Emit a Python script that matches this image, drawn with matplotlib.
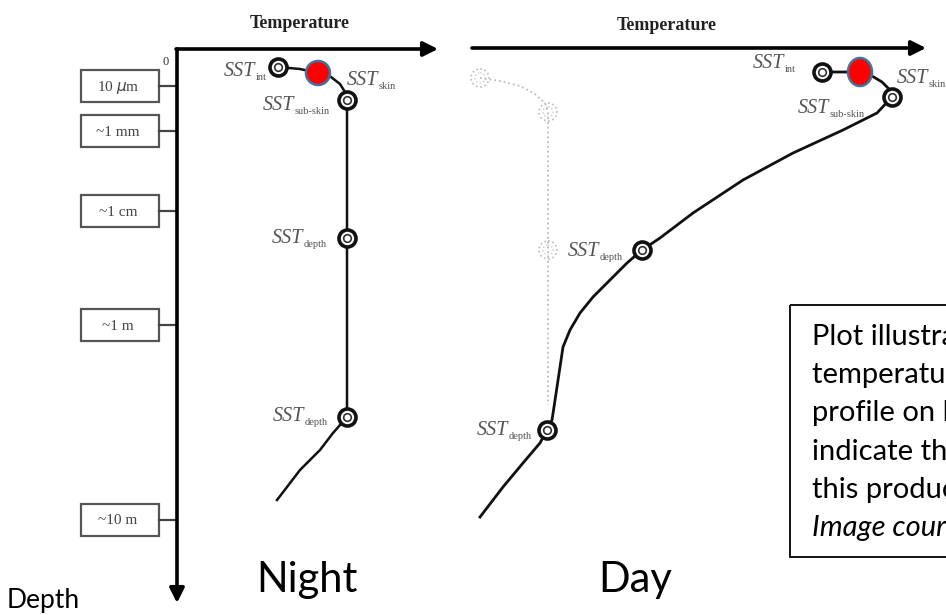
import numpy as np
import matplotlib.pyplot as plt
from matplotlib.patches import Rectangle, Ellipse, Circle

# profile curves, (temperature position, depth position) in picture units
night_T = [278, 300, 318, 331, 340, 345, 347, 347, 347, 333, 320, 300, 287, 277]
night_z = [67, 69, 73, 77, 84, 92, 100, 238, 417, 433, 450, 470, 487, 500]

day_T = [822, 845, 860, 872, 882, 889, 892, 877, 843, 793, 743, 693, 660, 642,
         627, 610, 593, 580, 570, 563, 560, 557, 554, 552, 547, 540, 523, 503, 480]
day_z = [72, 72, 72, 76, 82, 89, 97, 113, 130, 153, 180, 213, 238, 250,
         263, 280, 297, 313, 330, 347, 367, 387, 407, 420, 430, 443, 463, 487, 517]

ghost_T = [480, 500, 520, 535, 545, 548, 548]
ghost_z = [78, 81, 86, 94, 103, 112, 405]

# measurement markers
night_mk_T = [278, 347, 347, 347]
night_mk_z = [67, 100, 238, 417]
day_mk_T = [822, 892, 642, 547]
day_mk_z = [72, 97, 250, 430]
ghost_mk_T = [480, 548, 548]
ghost_mk_z = [78, 112, 250]

# skin temperature (red dots)
skin_T = [318, 860]
skin_z = [73, 72]

# depth scale boxes
depth_labels = ['10 $\\mu$m', '~1 mm', '~1 cm', '~1 m', '~10 m']
depth_ticks = [86, 131, 211, 325, 520]

# SST labels: (x, baseline, subscript)
night_lab = [(224, 76, 'int'), (347, 85, 'skin'), (263, 110, 'sub-skin'),
             (272, 243, 'depth'), (273, 421, 'depth')]
day_lab = [(753, 68, 'int'), (897, 83, 'skin'), (798, 113, 'sub-skin'),
           (568, 256, 'depth'), (477, 435, 'depth')]

note_lines = ['Plot illustrating the', 'temperature vs depth', 'profile on left and right.',
              'indicate the skin layer', 'this product measures.', 'Image courtesy of GHRSST']

serif = 'Liberation Serif'
sans = 'Lato'

fig = plt.figure(figsize=(9.46, 6.15), dpi=100)
ax = fig.add_axes([0, 0, 1, 1])
ax.set_xlim(0, 946)
ax.set_ylim(615, 0)
ax.axis('off')
renderer = fig.canvas.get_renderer()

arrow = dict(arrowstyle='-|>', lw=2.6, color='black', mutation_scale=22, shrinkA=0, shrinkB=0)
ax.annotate('', xy=(177, 603), xytext=(177, 49), arrowprops=arrow)
ax.annotate('', xy=(438, 49), xytext=(176, 49), arrowprops=arrow)
ax.annotate('', xy=(926, 48), xytext=(472, 48), arrowprops=arrow)

ax.text(300, 24, 'Temperature', family=serif, fontsize=13, fontweight='bold',
        color='#222', ha='center', va='center')
ax.text(667, 25, 'Temperature', family=serif, fontsize=13, fontweight='bold',
        color='#222', ha='center', va='center')
ax.text(166, 62, '0', family=serif, fontsize=9, color='#333', ha='center', va='center')

for lab, y in zip(depth_labels, depth_ticks):
    ax.add_patch(Rectangle((81, y - 16), 78, 32, fill=False, ec='#555', lw=1.6))
    ax.plot([159, 177], [y, y], color='#444', lw=1.6)
    ax.text(118, y + 1, lab, family=serif, fontsize=11, color='#444', ha='center', va='center')

# ghost (night) profile in the day panel
ax.plot(ghost_T, ghost_z, color='#bbbbbb', lw=1.3, ls=':')
for x, y in zip(ghost_mk_T, ghost_mk_z):
    ax.add_patch(Circle((x, y), 9, fill=False, ec='#bbbbbb', lw=1.2, ls=':'))
    ax.add_patch(Circle((x, y), 5, fill=False, ec='#cccccc', lw=1.0, ls=':'))

ax.plot(night_T, night_z, color='#111', lw=1.8)
ax.plot(day_T, day_z, color='#111', lw=2.0)

for xs, ys in [(night_mk_T, night_mk_z), (day_mk_T, day_mk_z)]:
    ax.scatter(xs, ys, s=150, facecolor='white', edgecolor='#111', lw=2.6, zorder=4)
    ax.scatter(xs, ys, s=30, facecolor='white', edgecolor='#333', lw=1.2, zorder=5)

ax.add_patch(Ellipse((skin_T[0], skin_z[0]), 24, 24, fc='#ff0000', ec='#41719c', lw=1.8, zorder=6))
ax.add_patch(Ellipse((skin_T[1], skin_z[1]), 24, 28, fc='#ff0000', ec='#41719c', lw=1.8, zorder=6))


def sst_label(x, y, sub):
    t = ax.text(x, y, 'SST', family=serif, style='italic', fontsize=14.5,
                color='#555', va='baseline', ha='left')
    bb = t.get_window_extent(renderer)
    ax.text(bb.x1 + 0.5, y + 4, sub, family=serif, fontsize=7.5,
            color='#555', va='baseline', ha='left')


for x, y, sub in night_lab + day_lab:
    sst_label(x, y, sub)

ax.text(307, 592, 'Night', family=sans, fontsize=30, ha='center', va='baseline')
ax.text(635, 592, 'Day', family=sans, fontsize=30, ha='center', va='baseline')
ax.text(7, 608, 'Depth', family=sans, fontsize=19, ha='left', va='baseline')

ax.add_patch(Rectangle((790, 305), 300, 252, fill=False, ec='black', lw=1.3, clip_on=False))
for i, line in enumerate(note_lines):
    ax.text(812, 345 + 38.2 * i, line, family=sans, fontsize=21, ha='left', va='baseline',
            style='italic' if i == len(note_lines) - 1 else 'normal')

fig.savefig('out.png', dpi=100)
